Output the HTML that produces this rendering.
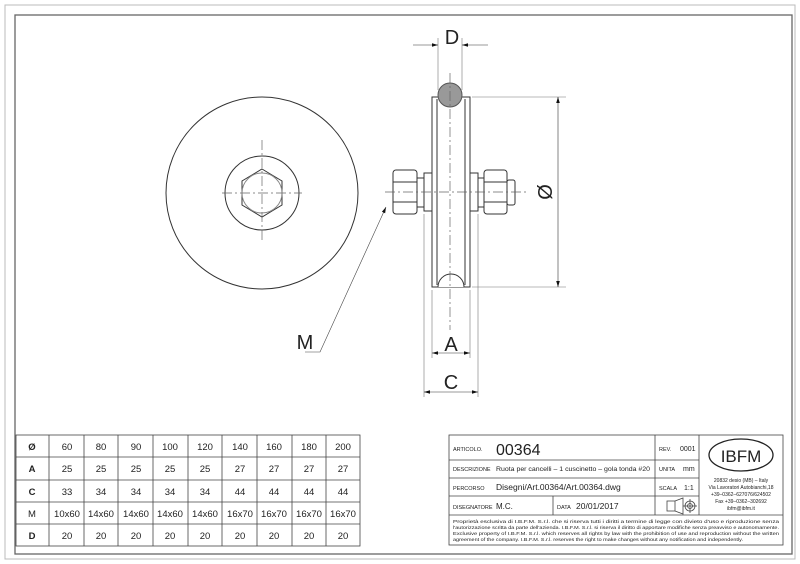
<!DOCTYPE html>
<html><head><meta charset="utf-8"><style>
html,body{margin:0;padding:0;background:#fff}
svg{display:block}
text{font-family:"Liberation Sans",sans-serif;fill:#222}
</style></head><body>
<svg width="800" height="564" viewBox="0 0 800 564" xmlns="http://www.w3.org/2000/svg">
<defs>
<marker id="ar" viewBox="0 0 10 10" refX="10" refY="5" markerWidth="9" markerHeight="6" orient="auto-start-reverse" markerUnits="userSpaceOnUse"><path d="M0,2 L10,5 L0,8 z" fill="#111"/></marker>
</defs>
<rect x="5" y="5" width="790" height="554" fill="none" stroke="#bbb" stroke-width="1"/>
<rect x="15" y="15" width="777" height="539" fill="none" stroke="#666" stroke-width="1.3"/>

<g fill="none" stroke="#333" stroke-width="1">
<circle cx="262" cy="193" r="96"/>
<circle cx="262" cy="193" r="37"/>
<polygon points="262,169 282,181 282,205 262,217 242,205 242,181"/>
<circle cx="262" cy="193" r="20" stroke="#888"/>
<g stroke="#666" stroke-width="0.7" stroke-dasharray="10,3,2,3">
<line x1="222" y1="193" x2="302" y2="193"/>
<line x1="262" y1="140" x2="262" y2="242"/>
</g>
</g>

<g stroke="#333" stroke-width="1" fill="#fff">
<rect x="432" y="97" width="38" height="190"/>
<line x1="437" y1="99" x2="437" y2="285"/>
<line x1="465" y1="99" x2="465" y2="285"/>
<path d="M438,287 A13,13 0 0 1 464,287" fill="#fff"/>
<rect x="424" y="173" width="8" height="38"/>
<rect x="417" y="178" width="7" height="29"/>
<rect x="393" y="170" width="24" height="44" rx="3"/>
<line x1="393" y1="182" x2="417" y2="182"/><line x1="393" y1="202" x2="417" y2="202"/>
<rect x="470" y="173" width="8" height="38"/>
<rect x="478" y="178" width="6" height="29"/>
<rect x="484" y="170" width="23" height="44" rx="3"/>
<line x1="484" y1="182" x2="507" y2="182"/><line x1="484" y1="202" x2="507" y2="202"/>
<rect x="507" y="180" width="8" height="25" rx="2"/>
<circle cx="450" cy="95" r="12" fill="#999" stroke="#555"/>
</g>
<g stroke="#666" stroke-width="0.7" stroke-dasharray="10,3,2,3">
<line x1="450" y1="73" x2="450" y2="330"/>
<line x1="385" y1="192" x2="528" y2="192"/>
</g>
<g stroke="#777" stroke-width="0.6" fill="none">
<line x1="438" y1="38" x2="438" y2="90"/><line x1="462" y1="38" x2="462" y2="90"/>
<line x1="413" y1="45" x2="438" y2="45" marker-end="url(#ar)" stroke="#333"/>
<line x1="488" y1="45" x2="462" y2="45" marker-end="url(#ar)" stroke="#333"/>
<line x1="472" y1="97" x2="566" y2="97"/><line x1="472" y1="287" x2="566" y2="287"/>
<line x1="558" y1="97" x2="558" y2="287" marker-start="url(#ar)" marker-end="url(#ar)" stroke="#333"/>
<line x1="432" y1="290" x2="432" y2="358"/><line x1="470" y1="290" x2="470" y2="358"/>
<line x1="432" y1="353" x2="470" y2="353" marker-start="url(#ar)" marker-end="url(#ar)" stroke="#333"/>
<line x1="424" y1="214" x2="424" y2="397"/><line x1="478" y1="214" x2="478" y2="397"/>
<line x1="424" y1="392" x2="478" y2="392" marker-start="url(#ar)" marker-end="url(#ar)" stroke="#333"/>
<polyline points="305,352 320,352 386,207" stroke="#444" marker-end="url(#ar)"/>
</g>
<text x="452" y="44" font-size="20" text-anchor="middle">D</text>
<text x="451" y="351" font-size="20" text-anchor="middle">A</text>
<text x="451" y="389" font-size="20" text-anchor="middle">C</text>
<text x="305" y="349" font-size="20" text-anchor="middle">M</text>
<text x="0" y="0" font-size="20" text-anchor="middle" transform="translate(552,192) rotate(-90)">Ø</text>

<g stroke="#444" stroke-width="0.8" fill="none">
<rect x="16" y="435" width="344" height="111"/>
<line x1="16" y1="457" x2="360" y2="457"/><line x1="16" y1="480" x2="360" y2="480"/>
<line x1="16" y1="502" x2="360" y2="502"/><line x1="16" y1="524" x2="360" y2="524"/>
<line x1="49" y1="435" x2="49" y2="546"/><line x1="84" y1="435" x2="84" y2="546"/>
<line x1="118" y1="435" x2="118" y2="546"/><line x1="153" y1="435" x2="153" y2="546"/>
<line x1="188" y1="435" x2="188" y2="546"/><line x1="222" y1="435" x2="222" y2="546"/>
<line x1="257" y1="435" x2="257" y2="546"/><line x1="292" y1="435" x2="292" y2="546"/>
<line x1="326" y1="435" x2="326" y2="546"/>
</g>
<g font-size="9.5" text-anchor="middle">
<text x="32" y="450" font-weight="bold">Ø</text><text x="67" y="450">60</text><text x="101" y="450">80</text><text x="136" y="450">90</text><text x="170" y="450">100</text><text x="205" y="450">120</text><text x="240" y="450">140</text><text x="274" y="450">160</text><text x="309" y="450">180</text><text x="343" y="450">200</text>
<text x="32" y="472" font-weight="bold">A</text><text x="67" y="472">25</text><text x="101" y="472">25</text><text x="136" y="472">25</text><text x="170" y="472">25</text><text x="205" y="472">25</text><text x="240" y="472">27</text><text x="274" y="472">27</text><text x="309" y="472">27</text><text x="343" y="472">27</text>
<text x="32" y="495" font-weight="bold">C</text><text x="67" y="495">33</text><text x="101" y="495">34</text><text x="136" y="495">34</text><text x="170" y="495">34</text><text x="205" y="495">34</text><text x="240" y="495">44</text><text x="274" y="495">44</text><text x="309" y="495">44</text><text x="343" y="495">44</text>
<text x="32" y="517">M</text><text x="67" y="517">10x60</text><text x="101" y="517">14x60</text><text x="136" y="517">14x60</text><text x="170" y="517">14x60</text><text x="205" y="517">14x60</text><text x="240" y="517">16x70</text><text x="274" y="517">16x70</text><text x="309" y="517">16x70</text><text x="343" y="517">16x70</text>
<text x="32" y="539" font-weight="bold">D</text><text x="67" y="539">20</text><text x="101" y="539">20</text><text x="136" y="539">20</text><text x="170" y="539">20</text><text x="205" y="539">20</text><text x="240" y="539">20</text><text x="274" y="539">20</text><text x="309" y="539">20</text><text x="343" y="539">20</text>
</g>

<g stroke="#444" stroke-width="0.8" fill="none">
<rect x="449" y="435" width="334" height="110"/>
<line x1="449" y1="460" x2="699" y2="460"/><line x1="449" y1="478" x2="699" y2="478"/>
<line x1="449" y1="496" x2="699" y2="496"/><line x1="449" y1="515" x2="783" y2="515"/>
<line x1="655" y1="435" x2="655" y2="515"/><line x1="699" y1="435" x2="699" y2="515"/>
<line x1="553" y1="496" x2="553" y2="515"/>
<ellipse cx="741" cy="455" rx="32" ry="16" stroke="#222" stroke-width="1.3"/>
<rect x="667" y="501" width="8" height="10"/><path d="M675,501 L683,498 L683,514 L675,511"/>
<circle cx="690" cy="506" r="5"/><circle cx="690" cy="506" r="2.5"/>
<line x1="683" y1="506" x2="697" y2="506"/><line x1="690" y1="499" x2="690" y2="513"/>
</g>
<g font-size="5.5">
<text x="453" y="451">ARTICOLO.</text>
<text x="496" y="455" font-size="16" fill="#666">00364</text>
<text x="453" y="471">DESCRIZIONE</text>
<text x="496" y="471" font-size="6.5" textLength="154" lengthAdjust="spacingAndGlyphs">Ruota per cancelli – 1 cuscinetto – gola tonda #20</text>
<text x="453" y="490">PERCORSO</text>
<text x="496" y="490" font-size="8.5" fill="#444">Disegni/Art.00364/Art.00364.dwg</text>
<text x="453" y="509">DISEGNATORE</text>
<text x="496" y="509" font-size="8" fill="#444">M.C.</text>
<text x="557" y="509">DATA</text>
<text x="576" y="509" font-size="8.5" fill="#444">20/01/2017</text>
<text x="659" y="451">REV.</text><text x="680" y="451" font-size="7">0001</text>
<text x="659" y="471">UNITA</text><text x="683" y="471" font-size="7">mm</text>
<text x="659" y="490">SCALA</text><text x="684" y="490" font-size="7">1:1</text>
<text x="741" y="462" font-size="17" text-anchor="middle" font-family="Liberation Serif">IBFM</text>
<g text-anchor="middle" font-size="5"><text x="741" y="482">20832 desio (MB) – Italy</text><text x="741" y="489">Via Lavoratori Autobianchi,18</text><text x="741" y="496">+39–0362–627076/624502</text><text x="741" y="503">Fax +39–0362–302692</text><text x="741" y="510">ibfm@ibfm.it</text></g>
<g font-size="4.8"><text x="453" y="523" textLength="326" lengthAdjust="spacingAndGlyphs">Proprietà esclusiva di I.B.F.M. S.r.l. che si riserva tutti i diritti a termine di legge con divieto d'uso e riproduzione senza</text>
<text x="453" y="529" textLength="326" lengthAdjust="spacingAndGlyphs">l'autorizzazione scritta da parte dell'azienda. I.B.F.M. S.r.l. si riserva il diritto di apportare modifiche senza preavviso e autonomamente.</text>
<text x="453" y="535" textLength="326" lengthAdjust="spacingAndGlyphs">Exclusive property of I.B.F.M. S.r.l. which reserves all rights by law with the prohibition of use and reproduction without the written</text>
<text x="453" y="541" textLength="290" lengthAdjust="spacingAndGlyphs">agreement of the company. I.B.F.M. S.r.l. reserves the right to make changes without any notification and independently.</text></g>
</g>
</svg>
</body></html>
